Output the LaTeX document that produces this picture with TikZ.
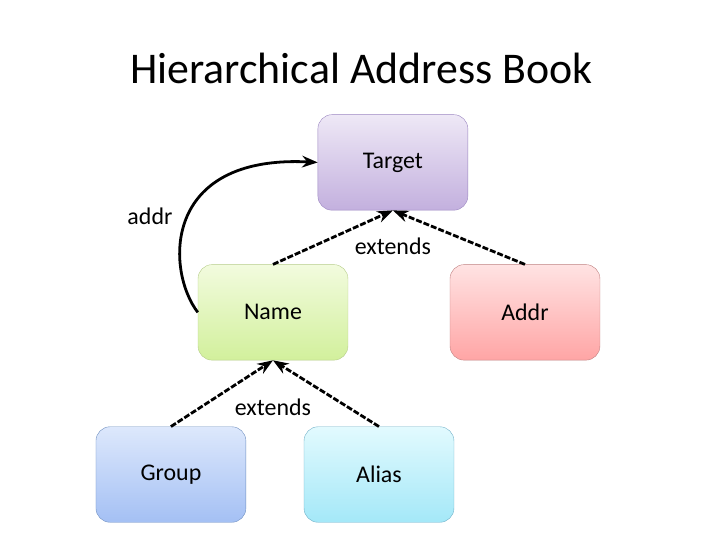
\documentclass[tikz,border=0pt]{standalone}
\usepackage{fontspec}
\setmainfont{Carlito}
\usepackage{tikz}
\usetikzlibrary{arrows.meta,positioning}
\definecolor{tgtT}{HTML}{EEE8F6}\definecolor{tgtB}{HTML}{C3B0DE}\definecolor{tgtD}{HTML}{9A85C0}
\definecolor{namT}{HTML}{F2FBDE}\definecolor{namB}{HTML}{D2F09C}\definecolor{namD}{HTML}{B5CC88}
\definecolor{adrT}{HTML}{FFE3E3}\definecolor{adrB}{HTML}{FFA5A5}\definecolor{adrD}{HTML}{C08080}
\definecolor{grpT}{HTML}{DDE8FC}\definecolor{grpB}{HTML}{A4C0F4}\definecolor{grpD}{HTML}{7090C0}
\definecolor{alsT}{HTML}{E2FAFE}\definecolor{alsB}{HTML}{A4E8F8}\definecolor{alsD}{HTML}{70B0C8}

\begin{document}
\begin{tikzpicture}[>=Stealth,
  cls/.style={rectangle,rounded corners=0.5cm,minimum width=5.29cm,minimum height=3.37cm,font=\fontsize{24}{28}\selectfont},
  ext/.style={->,line width=2.8pt,dash pattern=on 6pt off 2pt},
  lbl/.style={font=\fontsize{24}{28}\selectfont}]
  \useasboundingbox (0,0) rectangle (25.4,19.05);
  \node[font=\fontsize{44}{52}\selectfont](title)at(12.74,16.65){Hierarchical Address Book};
  \node[cls,draw=tgtD,top color=tgtT,bottom color=tgtB](target)at(13.86,13.32){Target};
  \node[cls,draw=namD,top color=namT,bottom color=namB](name)at(9.63,8.03){Name};
  \node[cls,draw=adrD,top color=adrT,bottom color=adrB](addr)at(18.52,8.03){Addr};
  \node[cls,draw=grpD,top color=grpT,bottom color=grpB](group)at(6.03,2.31){Group};
  \node[cls,draw=alsD,top color=alsT,bottom color=alsB](alias)at(13.37,2.31){Alias};
  \draw[ext](name.north)--(target.south);\draw[ext](addr.north)--(target.south);
  \draw[ext](group.north)--(name.south);\draw[ext](alias.north)--(name.south);
  \node[lbl](ext1)at(13.86,10.37){extends};
  \node[lbl](ext2)at(9.63,4.69){extends};
  \draw[->,line width=2.8pt](name.west) .. controls (5.85,9.5) and (5.7,13.6) .. (target.west);
  \node[lbl](addrlbl)at(5.29,11.43){addr};
\end{tikzpicture}
\end{document}
